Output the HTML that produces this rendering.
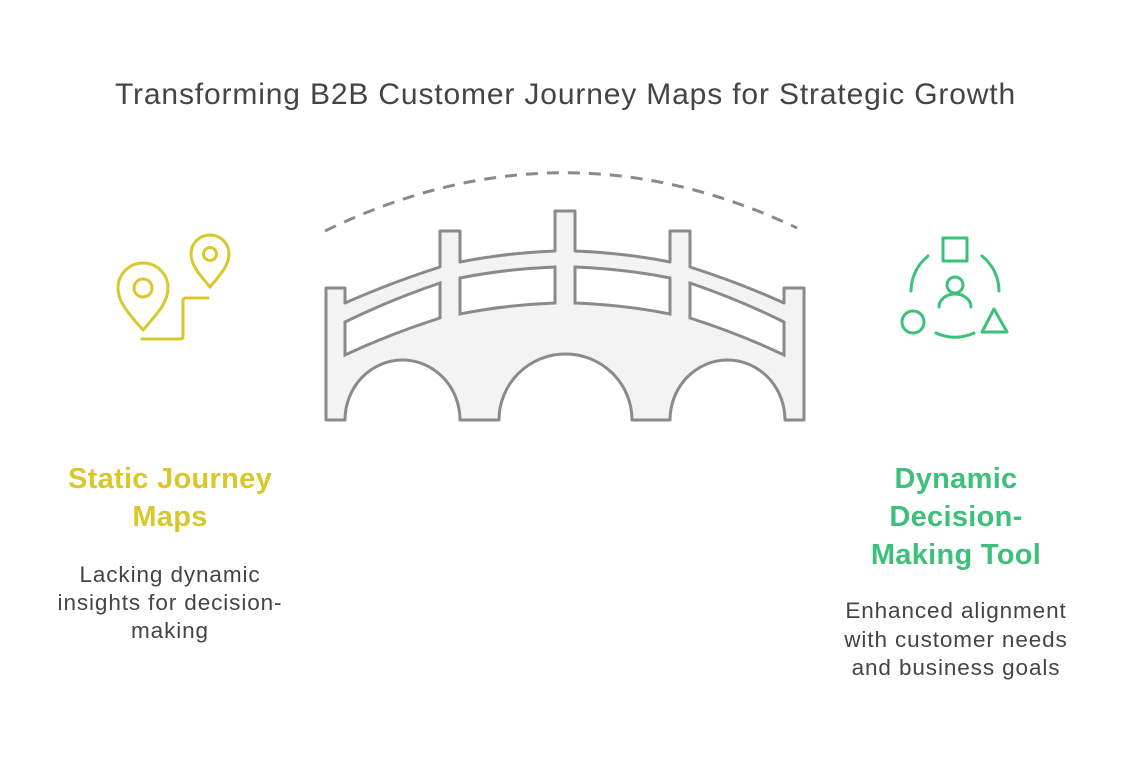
<!DOCTYPE html>
<html><head><meta charset="utf-8"><style>
html,body{margin:0;padding:0;background:#fff;}
body{width:1131px;height:768px;position:relative;overflow:hidden;font-family:"Liberation Sans",sans-serif;}
.t{position:absolute;text-align:center;}
</style></head><body>
<svg width="1131" height="768" style="position:absolute;left:0;top:0">
<path d="M325,231 Q561,116 797,228" fill="none" stroke="#8a8a8a" stroke-width="3" stroke-dasharray="12,9"/>
<path d="M326,420 L326,288 L345,288 L345,303 Q390,283 440,267 L440,231 L460,231 L460,262 Q505,253 555,251 L555,211 L575,211 L575,251 Q625,253 670,262 L670,231 L690,231 L690,267 Q740,283 784,303 L784,288 L804,288 L804,420 L785,420 A57.5,60 0 0 0 670,420 L632,420 A66.5,66 0 0 0 499,420 L460,420 A57.5,60 0 0 0 345,420 Z" fill="#f3f3f3" stroke="#8a8a8a" stroke-width="3" stroke-linejoin="round"/>
<path d="M345,322 Q390,300 440,283 L440,318 Q390,334 345,355 Z" fill="#fff" stroke="#8a8a8a" stroke-width="3"/>
<path d="M460,278 Q505,269 555,267 L555,303 Q505,305 460,314 Z" fill="#fff" stroke="#8a8a8a" stroke-width="3"/>
<path d="M575,267 Q625,269 670,278 L670,314 Q625,305 575,303 Z" fill="#fff" stroke="#8a8a8a" stroke-width="3"/>
<path d="M690,283 Q740,300 784,322 L784,355 Q740,334 690,318 Z" fill="#fff" stroke="#8a8a8a" stroke-width="3"/>
<g fill="none" stroke="#d9c82a" stroke-width="3" stroke-linecap="round" stroke-linejoin="round">
<path d="M143,330 C130,315 118,303 118,288 A25,25 0 0 1 168,288 C168,303 156,315 143,330 Z"/>
<circle cx="143" cy="288" r="9"/>
<path d="M210,287 C201,276 191,266 191,254 A19,19 0 0 1 229,254 C229,266 219,276 210,287 Z"/>
<circle cx="210" cy="254" r="6.5"/>
<path d="M142,339 L180,339 Q183,339 183,336 L183,301 Q183,298 186,298 L208,298"/>
</g>
<g fill="none" stroke="#3cc07a" stroke-width="3" stroke-linecap="round" stroke-linejoin="round">
<rect x="943" y="238" width="24" height="23"/>
<circle cx="955" cy="285" r="8"/>
<path d="M939,307 A16,13 0 0 1 971,307"/>
<circle cx="913" cy="322" r="11"/>
<path d="M994,309 L1007,332 L982,332 Z"/>
<path d="M928,256 A45,45 0 0 0 911,291"/>
<path d="M982,256 A45,45 0 0 1 999,291"/>
<path d="M936,333 A45,45 0 0 0 974,333"/>
</g>
</svg>
<div class="t" style="left:0;width:1131px;top:78px;font-size:30px;letter-spacing:0.85px;color:#444;">Transforming B2B Customer Journey Maps for Strategic Growth</div>
<div class="t" style="left:20px;width:300px;top:460px;font-size:29px;letter-spacing:0.3px;font-weight:bold;color:#d9c82a;line-height:38px;">Static Journey<br>Maps</div>
<div class="t" style="left:20px;width:300px;top:561px;font-size:22.5px;letter-spacing:0.9px;color:#444;line-height:28px;">Lacking dynamic<br>insights for decision-<br>making</div>
<div class="t" style="left:806px;width:300px;top:460px;font-size:29px;letter-spacing:0.3px;font-weight:bold;color:#3cc07a;line-height:38px;">Dynamic<br>Decision-<br>Making Tool</div>
<div class="t" style="left:806px;width:300px;top:597px;font-size:22.5px;letter-spacing:0.9px;color:#444;line-height:28.5px;">Enhanced alignment<br>with customer needs<br>and business goals</div>
</body></html>
